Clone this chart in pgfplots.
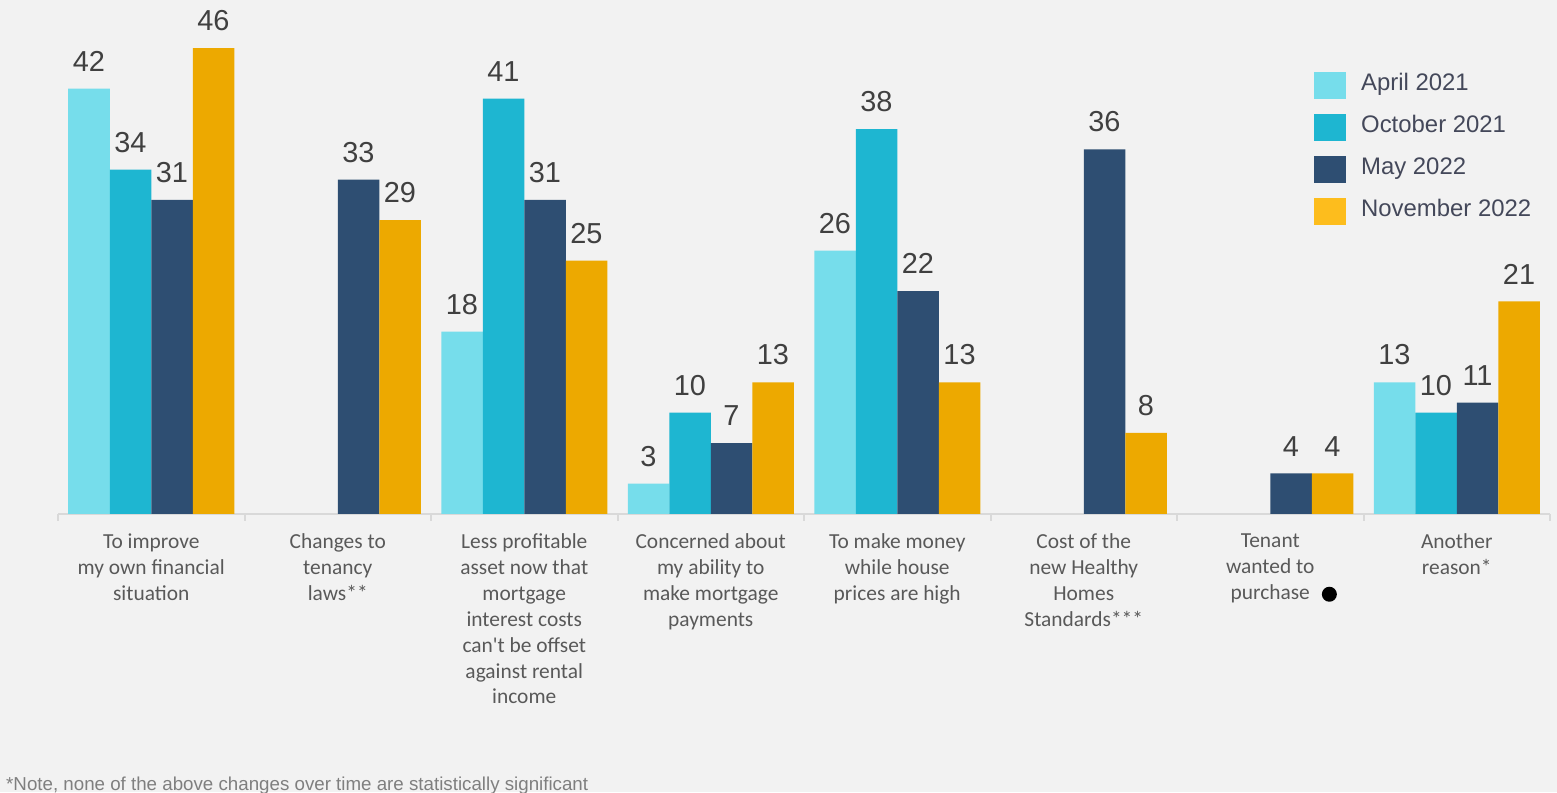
\documentclass[border=0pt]{standalone}
\usepackage{fontspec}
\setmainfont{Liberation Sans}
\newfontfamily\carlito{Carlito}
\usepackage{pgfplots}
\pgfplotsset{compat=1.18}
\definecolor{bg}{HTML}{F2F2F2}
\definecolor{cA}{HTML}{76DDEB}
\definecolor{cB}{HTML}{1EB6D1}
\definecolor{cC}{HTML}{2E4E72}
\definecolor{cD}{HTML}{EDA900}
\definecolor{cDL}{HTML}{FDBD1D}
\definecolor{txt}{HTML}{404040}
\definecolor{legtxt}{HTML}{44485A}
\definecolor{cat}{HTML}{595959}
\definecolor{axisgray}{HTML}{D9D9D9}
\definecolor{note}{HTML}{7F7F7F}
\begin{document}
\begin{tikzpicture}[x=1bp,y=1bp]
\fill[bg] (0,0) rectangle (1557,792);
\useasboundingbox (0,0) rectangle (1557,792);
\begin{axis}[
  at={(58bp,278bp)}, anchor=south west,
  scale only axis, width=1492bp, height=506.5bp,
  xmin=-0.5, xmax=7.5, ymin=0, ymax=50,
  /pgf/number format/assume math mode=true,
  ybar=0pt, bar width=41.5bp,
  every axis plot post/.append style={
    legend image code/.code={\fill[##1] (0bp,-13.5bp) rectangle (32bp,13.5bp);}},
  axis x line*=bottom, axis y line=none,
  axis line style={draw=axisgray, line width=2bp, -},
  xtick={0,...,7}, major tick length=0pt,
  extra x ticks={-0.5,0.5,1.5,2.5,3.5,4.5,5.5,6.5,7.5},
  extra x tick labels={},
  extra x tick style={major tick length=7bp, tick align=outside,
    tick style={draw=axisgray, line width=2bp}},
  xticklabels={
    {To improve\\my own financial\\situation},
    {Changes to\\tenancy\\laws**},
    {Less profitable\\asset now that\\mortgage\\interest costs\\can't be offset\\against rental\\income},
    {Concerned about\\my ability to\\make mortgage\\payments},
    {To make money\\while house\\prices are high},
    {Cost of the\\new Healthy\\Homes\\Standards***},
    {Tenant\\wanted to\\purchase\rlap{\hspace{12bp}\tikz[baseline=-5bp]\fill[black] (0,0) circle (7.5bp);}},
    {Another\\reason*}},
  xticklabel style={align=center, anchor=north, inner sep=0pt, yshift=-19.5bp,
    font=\carlito\fontsize{21.5}{26}\selectfont, text=cat,
    execute at begin node=\strut},
  nodes near coords,
  every node near coord/.append style={font=\fontsize{29}{30}\selectfont,
    text=txt, anchor=south, inner sep=0pt, yshift=17bp},
  legend style={at={(0.8418,0.8727)}, anchor=north west, draw=none, fill=none,
    inner sep=0pt, row sep=15bp, column sep=15bp,
    font=\fontsize{24}{28}\selectfont, text=legtxt,
    nodes={inner sep=0pt, yshift=3bp}},
  legend cell align=left,
  clip=false,
]
\addplot[fill=cA, draw=none] coordinates {(0,42) (2,18) (3,3) (4,26) (7,13)};
\addplot[fill=cB, draw=none] coordinates {(0,34) (2,41) (3,10) (4,38) (7,10)};
\addplot[fill=cC, draw=none] coordinates {(0,31) (1,33) (2,31) (3,7) (4,22) (5,36) (6,4) (7,11)};
\addplot[fill=cD, draw=none, legend image post style={fill=cDL}] coordinates {(0,46) (1,29) (2,25) (3,13) (4,13) (5,8) (6,4) (7,21)};
\legend{April 2021, October 2021, May 2022, November 2022}
\end{axis}
\node[anchor=base west, inner sep=0pt, text=note, font=\fontsize{18.8}{20}\selectfont] at (6,2) {*Note, none of the above changes over time are statistically significant};
\end{tikzpicture}
\end{document}
